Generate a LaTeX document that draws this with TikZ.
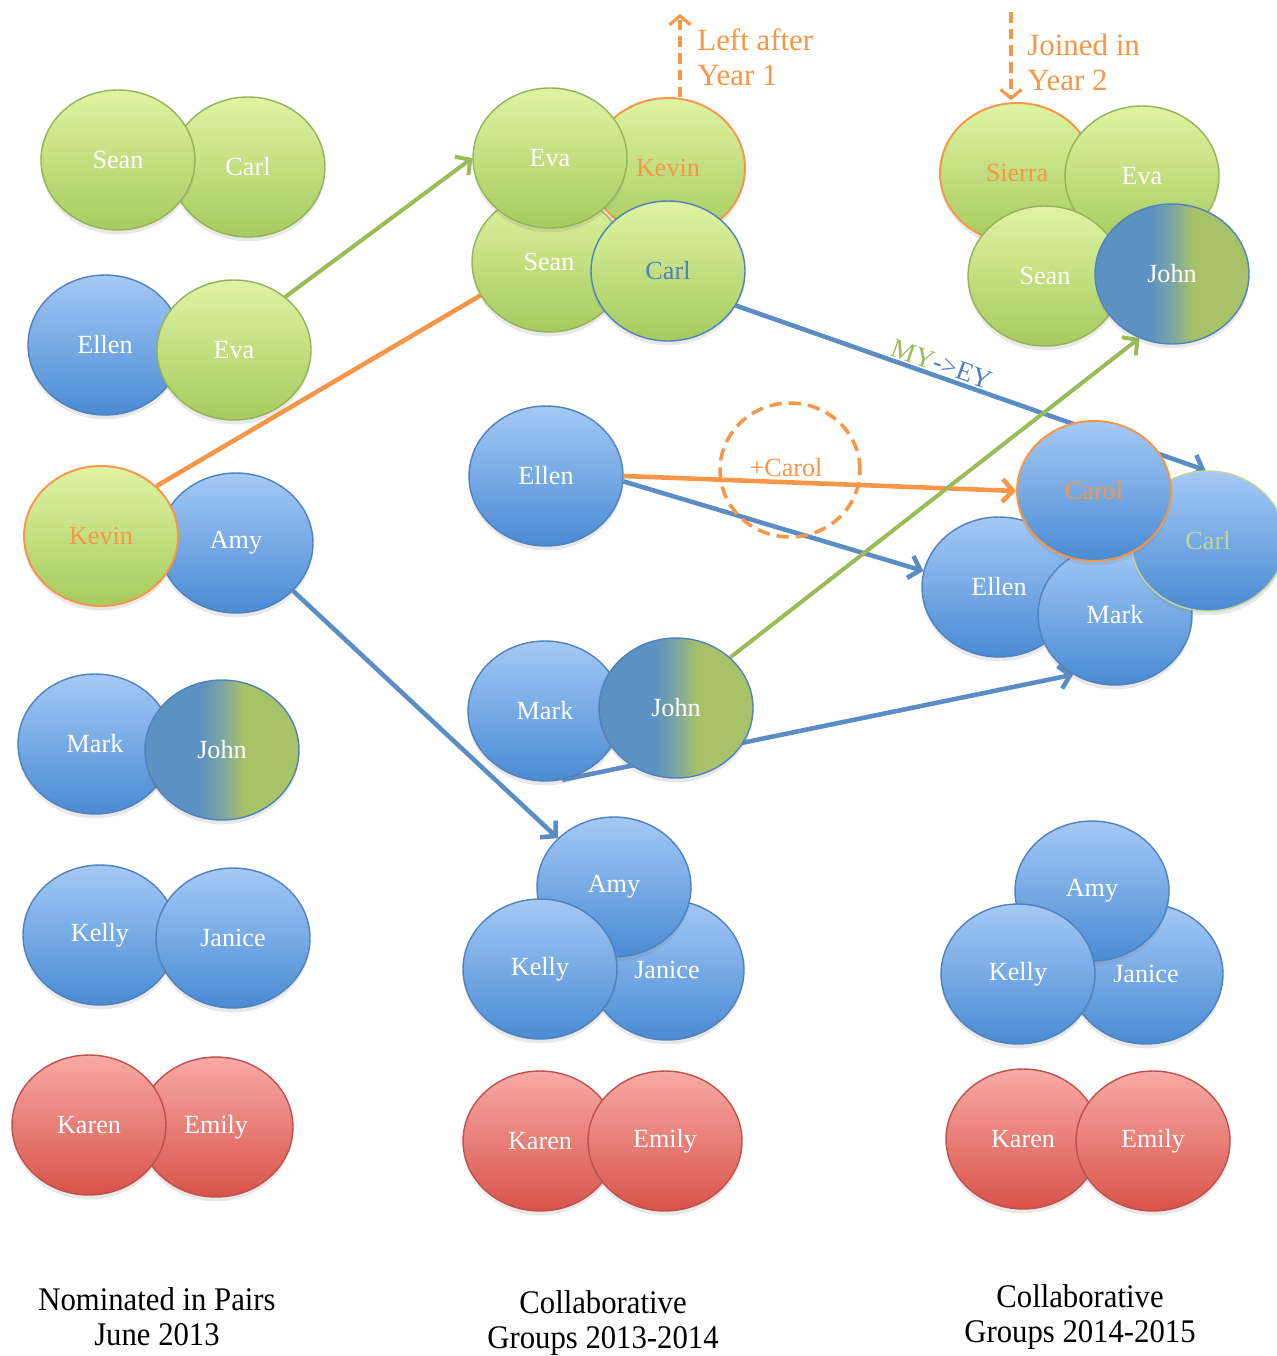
\documentclass[tikz,border=0pt]{standalone}
\usepackage{fontspec}
\setmainfont{Liberation Serif}
\usetikzlibrary{shapes.geometric,arrows.meta,shadows}

% palette
\definecolor{gtop}{HTML}{DFF4A3}
\definecolor{gbot}{HTML}{A6CB5E}
\definecolor{gline}{HTML}{93B356}
\definecolor{btop}{HTML}{A4C9F6}
\definecolor{bbot}{HTML}{4A8BD3}
\definecolor{bline}{HTML}{4F81BD}
\definecolor{rtop}{HTML}{F8AAA5}
\definecolor{rbot}{HTML}{D8534A}
\definecolor{rline}{HTML}{C0504D}
\definecolor{orng}{HTML}{F79646}
\definecolor{jblue}{HTML}{5B92C2}
\definecolor{jmid}{HTML}{7EA5A2}
\definecolor{jgreen}{HTML}{A8C268}
\definecolor{paleg}{HTML}{C4D79B}
\definecolor{arrg}{HTML}{9BBB59}
\definecolor{arrb}{HTML}{5A8CC6}

% split blue/green fill for members who count in both groups
\pgfdeclarehorizontalshading{johnshade}{100bp}{color(0bp)=(jblue); color(43bp)=(jblue); color(50bp)=(jmid); color(57bp)=(jgreen); color(100bp)=(jgreen)}

\pgfdeclarelayer{background}
\pgfsetlayers{background,main}

\tikzset{
  pers/.style={ellipse, minimum width=3.08cm, minimum height=2.8cm, inner sep=0pt,
    line width=0.8pt, text=white, font=\fontsize{14.9}{17}\selectfont,
    drop shadow={opacity=0.18, shadow xshift=0pt, shadow yshift=-2.5pt}},
  gp/.style={pers, draw=gline, top color=gtop, bottom color=gbot},
  bp/.style={pers, draw=bline, top color=btop, bottom color=bbot},
  rp/.style={pers, draw=rline, top color=rtop, bottom color=rbot},
  jp/.style={pers, draw=bline, shading=johnshade},
  newbie/.style={draw=orng, line width=1.1pt, text=orng},
  tipbarb/.style={-{Straight Barb[length=6pt,width=13pt]}},
  garrow/.style={tipbarb, draw=arrg, line width=2.3pt},
  barrow/.style={tipbarb, draw=arrb, line width=2.6pt},
  oarrow/.style={tipbarb, draw=orng, line width=2.6pt},
  oline/.style={draw=orng, line width=2.6pt},
  dasharrow/.style={-{Straight Barb[length=5pt,width=12pt]}, draw=orng, line width=1.8pt, dash pattern=on 6pt off 3.5pt},
  note/.style={text=orng, font=\fontsize{17.6}{20}\selectfont, align=left, inner sep=0pt},
  caption/.style={font=\fontsize{18.8}{20}\selectfont, align=center, xscale=0.93, transform shape}
}

\begin{document}
\begin{tikzpicture}[x=0.02cm, y=-0.02cm]
\useasboundingbox (0,0) rectangle (1277,1356);

% ---------- column 1: nominated pairs ----------
\node[gp] (carl1) at (248,167) {Carl};
\node[gp] (sean1) at (118,160) {Sean};
\node[bp] (ellen1) at (105,345) {Ellen};
\node[gp] (eva1) at (234,350) {Eva};
\node[bp] (amy1) at (236,543) {Amy};
\node[gp, newbie] (kevin1) at (101,536) {Kevin};
\node[bp] (mark1) at (95,744) {Mark};
\node[jp] (john1) at (222,750) {John};
\node[bp] (kelly1) at (100,935) {Kelly};
\node[bp] (janice1) at (233,938) {Janice};
\node[rp] (emily1) at (216,1127) {Emily};
\node[rp] (karen1) at (89,1125) {Karen};

% ---------- column 2: groups 2013-2014 ----------
\node[gp, newbie] (kevin2) at (668,168) {Kevin};
\node[gp] (sean2) at (549,262) {Sean};
\node[gp] (eva2) at (550,158) {Eva};
\node[gp, draw=bline, text=bline] (carl2) at (668,271) {Carl};
\node[bp] (ellen2) at (546,476) {Ellen};
\node[bp] (mark2) at (545,711) {Mark};
\node[jp] (john2) at (676,708) {John};
\node[bp] (janice2) at (667,970) {Janice};
\node[bp] (amy2) at (614,887) {Amy};
\node[bp] (kelly2) at (540,969) {Kelly};
\node[rp] (karen2) at (540,1141) {Karen};
\node[rp] (emily2) at (665,1141) {Emily};

% ---------- column 3: groups 2014-2015 ----------
\node[gp, newbie] (sierra3) at (1017,173) {Sierra};
\node[gp] (eva3) at (1142,176) {Eva};
\node[gp] (sean3) at (1045,276) {Sean};
\node[jp] (john3) at (1172,274) {John};
\node[bp] (ellen3) at (999,587) {Ellen};
\node[bp] (mark3) at (1115,615) {Mark};
\node[bp, draw=paleg, text=paleg] (carl3) at (1208,541) {Carl};
\node[bp, newbie] (carol3) at (1094,491) {Carol};
\node[bp] (janice3) at (1146,974) {Janice};
\node[bp] (amy3) at (1092,891) {Amy};
\node[bp] (kelly3) at (1018,974) {Kelly};
\node[rp] (karen3) at (1023,1139) {Karen};
\node[rp] (emily3) at (1153,1141) {Emily};

% ---------- moves between groups ----------
\begin{pgfonlayer}{background}
  \draw[garrow] (eva1.46) -- (eva2.west);
  \draw[oline] (kevin1.42) -- (sean2.206);
  \draw[barrow] (amy1.320) -- (amy2.139);
  \draw[barrow] (carl2.333) -- node[pos=0.43, above, sloped, inner sep=1pt,
      font=\fontsize{15.5}{18}\selectfont]
      {\textcolor{arrg}{MY}\textcolor{bline}{->EY}} (carl3.92);
  \draw[barrow] (ellen2.-4) -- (ellen3.168);
  \draw[barrow] (mark2.284) -- (mark3.235);
  \draw[oarrow] (ellen2.east) -- (carol3.west);
  \draw[garrow] (john2.43) -- (john3.243);
\end{pgfonlayer}

% new member joining the Ellen group
\node[ellipse, draw=orng, line width=2pt, dash pattern=on 7pt off 4pt,
      minimum width=2.8cm, minimum height=2.68cm, inner sep=0pt] (plus) at (790,470) {};
\node[text=orng, font=\fontsize{14.9}{17}\selectfont, inner sep=0pt] (plustext) at (786,468) {+Carol};

% left / joined markers
\coordinate (lefttip) at (680,14);
\draw[dasharrow] (lefttip |- kevin2.north) -- (lefttip);
\node[note, anchor=west] (leftnote) at (697,57) {Left after\\Year 1};

\coordinate (joinstart) at (1011,12);
\draw[dasharrow] (joinstart) -- ([yshift=1pt]joinstart |- sierra3.north);
\node[note, anchor=west] (joinnote) at (1027,62) {Joined in\\Year 2};

% column captions
\node[caption] (cap1) at (157,1317) {Nominated in Pairs\\June 2013};
\node[caption] (cap2) at (603,1323) {Collaborative\\Groups 2013-2014};
\node[caption] (cap3) at (1080,1317) {Collaborative\\Groups 2014-2015};
\end{tikzpicture}
\end{document}
